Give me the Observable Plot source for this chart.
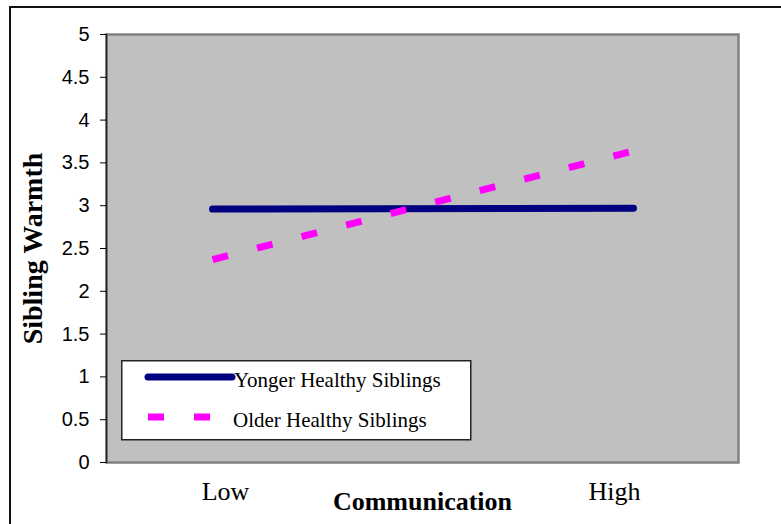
<!DOCTYPE html>
<html>
<head>
<meta charset="utf-8">
<script src="https://cdn.jsdelivr.net/npm/d3@7"></script>
<script src="https://cdn.jsdelivr.net/npm/@observablehq/plot@0.6"></script>
<style>
  html, body { margin: 0; padding: 0; background: #fff; }
  #wrap { position: relative; width: 781px; height: 524px; overflow: hidden; }
  #border { position: absolute; left: 9px; top: 6px; right: -10px; bottom: -10px;
            border-left: 2px solid #111; border-top: 2px solid #111; pointer-events: none; }
  #legend { position: absolute; left: 121px; top: 360px; }
</style>
</head>
<body>
<div id="wrap">
  <div id="chart"></div>
  <div id="border"></div>
  <svg id="legend" width="351" height="81"></svg>
</div>
<script>
// Communication level on the x axis
const levels = ["Low", "High"];
// Series names and their estimated sibling warmth at each level
const seriesNames = ["Yonger Healthy Siblings", "Older Healthy Siblings"];
const younger = [2.96, 2.97];
const older = [2.37, 3.64];
// Y axis ticks
const yTicks = [0, 0.5, 1, 1.5, 2, 2.5, 3, 3.5, 4, 4.5, 5];
const xTitle = "Communication";
const yTitle = "Sibling Warmth";

const rows = [
  ...levels.map((level, i) => ({series: seriesNames[0], level, value: younger[i]})),
  ...levels.map((level, i) => ({series: seriesNames[1], level, value: older[i]}))
];

const styles = {
  [seriesNames[0]]: {stroke: "#000080", dash: null, cap: "round"},
  [seriesNames[1]]: {stroke: "#ff00ff", dash: "16,30", cap: "butt"}
};

const serif = "'Liberation Serif', 'Times New Roman', serif";
const sans = "'Liberation Sans', Arial, sans-serif";

const chart = Plot.plot({
  width: 781,
  height: 524,
  marginLeft: 106,
  marginRight: 43,
  marginTop: 34,
  marginBottom: 62,
  style: {background: "transparent", color: "#000"},
  x: {type: "point", domain: levels, padding: 0.25, axis: null},
  y: {domain: [0, 5], axis: null},
  marks: [
    Plot.frame({fill: "#c0c0c0", stroke: null}),
    Plot.frame({stroke: "#808080", strokeWidth: 2.5}),
    Plot.frame({anchor: "left", stroke: "#222", strokeWidth: 1.5}),
    // y ticks and their labels
    Plot.tickY(yTicks, {y: d => d, frameAnchor: "left", stroke: "#000", strokeWidth: 1,
      insetLeft: -6, insetRight: 632}),
    Plot.text(yTicks, {y: d => d, text: d => String(d), frameAnchor: "left",
      textAnchor: "end", lineAnchor: "middle", dx: -17,
      fontSize: 20, fontFamily: sans, fill: "#000"}),
    Plot.line(rows.filter(d => d.series === seriesNames[0]), {
      x: "level", y: "value",
      stroke: styles[seriesNames[0]].stroke, strokeWidth: 7, strokeLinecap: "round"
    }),
    Plot.line(rows.filter(d => d.series === seriesNames[1]), {
      x: "level", y: "value",
      stroke: styles[seriesNames[1]].stroke, strokeWidth: 7,
      strokeDasharray: styles[seriesNames[1]].dash, strokeLinecap: "butt"
    }),
    // category labels sit slightly inward of the line ends
    Plot.text([levels[0]], {x: d => d, frameAnchor: "bottom", lineAnchor: "middle",
      dy: 29, dx: 13, fontSize: 26, fontFamily: serif, fill: "#000"}),
    Plot.text([levels[1]], {x: d => d, frameAnchor: "bottom", lineAnchor: "middle",
      dy: 29, dx: -19, fontSize: 26, fontFamily: serif, fill: "#000"}),
    Plot.text([xTitle], {frameAnchor: "bottom", lineAnchor: "middle", dy: 39,
      fontSize: 26, fontWeight: "bold", fontFamily: serif, fill: "#000"}),
    Plot.text([yTitle], {frameAnchor: "left", textAnchor: "middle", lineAnchor: "middle",
      dx: -73, rotate: -90,
      fontSize: 28, fontWeight: "bold", fontFamily: serif, fill: "#000"})
  ]
});
document.getElementById("chart").appendChild(chart);

// Legend box with line swatches
const legend = d3.select("#legend");
legend.append("rect")
  .attr("x", 0.75).attr("y", 0.75).attr("width", 349).attr("height", 79)
  .attr("fill", "#fff").attr("stroke", "#222").attr("stroke-width", 1.5);
const rowY = [17, 57];
seriesNames.forEach((name, i) => {
  const s = styles[name];
  legend.append("line")
    .attr("x1", 27)
    .attr("x2", i === 0 ? 111 : 89)
    .attr("y1", rowY[i]).attr("y2", rowY[i])
    .attr("stroke", s.stroke).attr("stroke-width", 7)
    .attr("stroke-linecap", s.cap)
    .attr("stroke-dasharray", s.dash);
  legend.append("text")
    .attr("x", i === 0 ? 113 : 112).attr("y", rowY[i] + 10)
    .attr("font-family", serif).attr("font-size", 21).attr("fill", "#000")
    .text(name);
});
</script>
</body>
</html>
